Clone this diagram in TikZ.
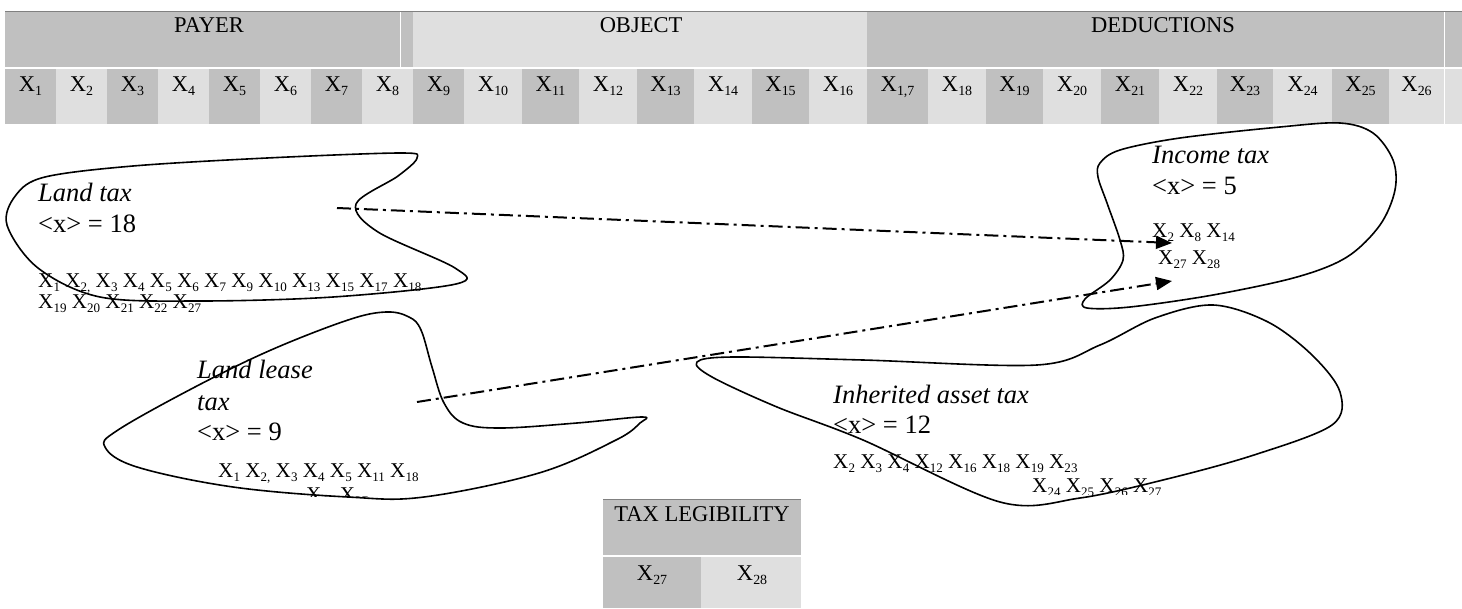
\documentclass[tikz,border=0pt]{standalone}
\usepackage{fontspec}
\setmainfont{Liberation Serif}
\usepackage{graphicx}
\usetikzlibrary{arrows.meta}
\definecolor{dk}{RGB}{192,192,192}
\definecolor{lt}{RGB}{223,223,223}
\newcommand{\Xs}[1]{X\kern0.2pt\raisebox{-0.22em}{\scalebox{0.62}{#1}}}
\newcommand{\hsz}{\fontsize{22.5}{26}\selectfont}
\newcommand{\tsz}{\fontsize{26.5}{31}\selectfont}
\newcommand{\lsz}{\fontsize{21}{22}\selectfont}
\begin{document}
\begin{tikzpicture}[x=1pt,y=-1pt,
  hdr/.style={inner sep=0pt, anchor=base, font=\hsz},
  ttl/.style={inner sep=0pt, anchor=base west, font=\tsz\itshape},
  val/.style={inner sep=0pt, anchor=base west, font=\tsz},
  lst/.style={inner sep=0pt, anchor=base west, font=\lsz},
  blob/.style={draw=black, line width=1.6pt, line join=round},
  conn/.style={line width=2pt, dash pattern=on 14pt off 5pt on 3pt off 5pt, -{Triangle[length=16pt,width=13pt]}},
]
\useasboundingbox (0,0) rectangle (1462,608);
% ---------- top bar ----------
\fill[dk] (5,12) rectangle (400,67);
\fill[dk] (401,12) rectangle (413,67);
\fill[lt] (413,12) rectangle (867,67);
\fill[dk] (867,12) rectangle (1444,67);
\fill[dk] (1445,12) rectangle (1462,67);
\draw[gray, line width=1pt] (5,11.5) -- (1462,11.5);
\node[hdr] (payer) at (209,32) {PAYER};
\node[hdr] (object) at (641,32) {OBJECT};
\node[hdr] (deduct) at (1163,32) {DEDUCTIONS};
\foreach \l/\r/\t/\c [count=\i] in {5/56/1/dk,56/107/2/lt,107/158/3/dk,158/209/4/lt,209/260/5/dk,260/311/6/lt,311/362/7/dk,362/413/8/lt,413/464/9/dk,464/522/10/lt,522/579/11/dk,579/637/12/lt,637/694/13/dk,694/752/14/lt,752/809/15/dk,809/867/16/lt,867/928/{1,7}/dk,928/986/18/lt,986/1043/19/dk,1043/1101/20/lt,1101/1159/21/dk,1159/1217/22/lt,1217/1273/23/dk,1273/1332/24/lt,1332/1389/25/dk,1389/1444/26/lt}{
  \fill[\c] (\l,69) rectangle (\r,124);
  \node[hdr] (c\i) at ({(\l+\r)/2},91) {\Xs{\t}};
}
\fill[lt] (1445,69) rectangle (1462,124);
% ---------- tax legibility ----------
\fill[dk] (603,500) rectangle (801,555);
\draw[gray, line width=1pt] (603,499.5) -- (801,499.5);
\fill[dk] (603,557) rectangle (701,608);
\fill[lt] (701,557) rectangle (801,608);
\node[hdr] (leg) at (702,521) {TAX LEGIBILITY};
\node[hdr] (x27) at (652,580) {\Xs{27}};
\node[hdr] (x28) at (752,580) {\Xs{28}};
% ---------- blobs ----------
\draw[blob] plot[smooth cycle, tension=0.55] coordinates {
 (45,177) (133,166) (267,158) (400,153) (417,158) (398,176) (356,204) (378,232)
 (455,268) (456,284) (333,297) (200,301) (100,297) (38,268) (7,225) (16,195)};
\draw[blob] plot[smooth cycle, tension=0.55] coordinates {
 (1100,163) (1120,150) (1180,138) (1280,127) (1340,123) (1373,133) (1393,160)
 (1395,190) (1380,225) (1347,257) (1297,277) (1213,295) (1130,307) (1087,308)
 (1085,299) (1110,280) (1123,260) (1120,240) (1107,203) (1098,177)};
\draw[blob] plot[smooth cycle, tension=0.6] coordinates {
 (386,312) (409,317) (421,330) (432,367) (444,403) (463,423) (501,428) (577,423)
 (642,417) (640,423) (616,440) (539,473) (424,497) (348,497) (233,487) (137,467)
 (105,447) (118,430) (195,387) (271,350) (348,320)};
\draw[blob] plot[smooth cycle, tension=0.55] coordinates {
 (697,362) (733,357) (863,360) (1037,365) (1100,345) (1155,318) (1213,305)
 (1268,322) (1312,355) (1340,392) (1332,425) (1254,455)
 (1167,479) (1080,498) (1000,502) (863,440) (777,407) (712,377)};
% ---------- texts ----------
\node[ttl] (lt1) at (38,201) {Land tax};
\node[val] (lt2) at (38,232) {<x> = 18};
\node[lst] (lt3) at (38,287) {\Xs{1} \Xs{2,} \Xs{3} \Xs{4} \Xs{5} \Xs{6} \Xs{7} \Xs{9} \Xs{10} \Xs{13} \Xs{15} \Xs{17} \Xs{18}};
\node[lst] (lt4) at (38,308) {\Xs{19} \Xs{20} \Xs{21} \Xs{22} \Xs{27}};
\node[ttl] (it1) at (1152,163) {Income tax};
\node[val] (it2) at (1152,194) {<x> = 5};
\node[lst] (it3) at (1152,237) {\Xs{2} \Xs{8} \Xs{14}};
\node[lst] (it4) at (1158,264) {\Xs{27} \Xs{28}};
\node[ttl] (ll1) at (197,378) {Land lease};
\node[ttl] (ll2) at (197,410) {tax};
\node[val] (ll3) at (197,440) {<x> = 9};
\node[lst] (ll4) at (218,477) {\Xs{1} \Xs{2,} \Xs{3} \Xs{4} \Xs{5} \Xs{11} \Xs{18}};
\begin{scope}
\clip (280,470) rectangle (420,496);
\node[lst] (ll5) at (306,501) {\Xs{19} \Xs{27}};
\end{scope}
\node[ttl] (ia1) at (833,403) {Inherited asset tax};
\node[val] (ia2) at (833,433) {<x> = 12};
\node[lst] (ia3) at (833,468) {\Xs{2} \Xs{3} \Xs{4} \Xs{12} \Xs{16} \Xs{18} \Xs{19} \Xs{23}};
\begin{scope}
\clip (1020,470) rectangle (1160,494);
\node[lst] (ia4) at (1032,492) {\Xs{24} \Xs{25} \Xs{26} \Xs{27}};
\end{scope}
% ---------- connectors ----------
\coordinate (a1s) at (337,208);
\coordinate (a1e) at (1172,243);
\coordinate (a2s) at (417,402);
\coordinate (a2e) at (1172,281);
\draw[conn] (a1s) -- (a1e);
\draw[conn] (a2s) -- (a2e);
\end{tikzpicture}
\end{document}
